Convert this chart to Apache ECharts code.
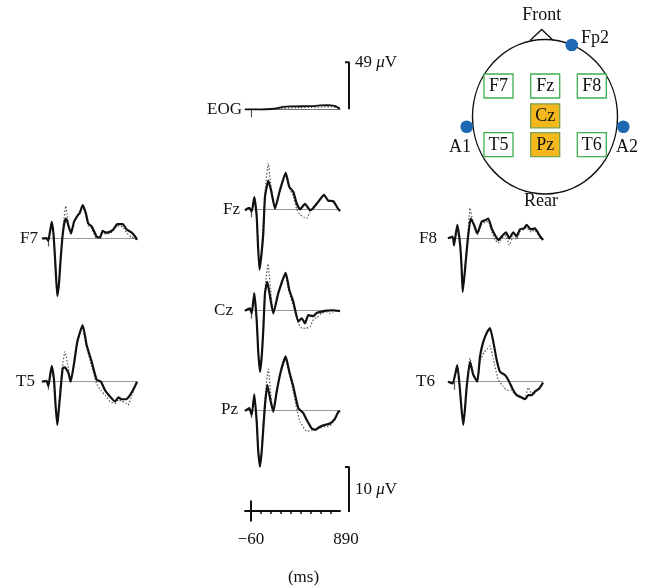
<!DOCTYPE html>
<html>
<head>
<meta charset="utf-8">
<script src="https://cdn.jsdelivr.net/npm/echarts@6/dist/echarts.min.js"></script>
<style>html,body{margin:0;padding:0;background:#fff}#c{width:646px;height:587px}</style>
</head>
<body>
<div id="c"></div>
<script>
// ---- data: [time (ms), amplitude (µV)] ----
const timeRange = [-60, 890];
const timeTickLabels = [-60, 890];
const timeMinorTicks = [100, 200, 300, 400, 500, 600, 700, 800];
const eogScale = 49;   // µV
const erpScale = 10;   // µV

const eogSolid = [[-60,0],[0,0],[100,0],[200,0.3],[280,1.5],[320,2.5],[400,3],[500,3.2],[600,3.3],[650,3.6],[700,4],[760,4.2],[800,4],[850,3],[890,0.5]];
const eogDotted = [[-60,0],[0,0],[100,-0.3],[200,0],[300,0.5],[400,1.5],[500,1.8],[600,2],[700,2.3],[800,2.5],[850,2],[890,0.5]];

const f7Solid = [[-60,0],[-15,0.1],[3,-0.5],[20,1.5],[37,3.7],[55,1.0],[72,-5],[93,-12.8],[110,-10],[125,-5],[143,0],[160,3.0],[177,4.4],[190,4.0],[205,2.8],[230,1.1],[260,3.7],[293,5.0],[320,5.8],[347,7.4],[380,5.5],[403,3.3],[437,2.7],[487,0.4],[520,0.2],[547,1.7],[580,1.3],[620,1.5],[653,2.0],[693,3.2],[747,3.2],[787,2.0],[837,1.3],[870,0.5],[890,-0.3]];
const f7Dotted = [[-60,0],[-15,0.1],[3,-0.5],[20,1.5],[37,3.5],[55,1.0],[72,-5],[93,-12.5],[110,-10],[125,-5],[143,0.5],[160,4.5],[177,7.2],[190,5.5],[205,3.2],[230,1.3],[260,3.5],[293,5.0],[320,6.2],[347,7.2],[380,5.0],[403,2.8],[437,2.2],[487,0.0],[520,0.4],[547,1.3],[580,1.0],[620,1.2],[653,1.8],[693,2.8],[747,2.6],[787,1.2],[837,0.3],[870,0.0],[890,-0.3]];

const fzSolid = [[-60,-0.2],[-17,0.3],[7,-0.5],[33,2.7],[57,-1.6],[70,-8],[85,-13.4],[105,-10],[123,-5.3],[140,2.8],[173,6.4],[200,4.3],[240,0.2],[290,4.3],[347,8.1],[383,5.0],[423,3.9],[457,1.3],[490,0],[540,1.2],[590,-0.2],[623,0.3],[673,1.7],[730,3.2],[773,1.9],[823,1.8],[863,0.4],[890,-0.4]];
const fzDotted = [[-60,-0.2],[-17,0.3],[7,-0.5],[33,2.5],[57,-1.6],[70,-8],[85,-12.8],[105,-9],[123,-3],[145,5],[173,10.2],[195,6],[240,0.0],[290,4.0],[340,7.8],[383,4.6],[423,3.0],[457,0.0],[490,-1.2],[530,-1.8],[557,-2.0],[590,-0.5],[623,0.2],[673,1.5],[730,3.0],[773,2.0],[823,1.5],[863,0.3],[890,-0.4]];

const f8Solid = [[-60,0],[-13,0.4],[0,-1.5],[33,3.0],[60,-1.1],[75,-6],[87,-11.9],[110,-7.0],[137,-0.4],[167,4.4],[200,3.0],[233,1.1],[277,3.7],[310,4.0],[343,4.4],[377,2.2],[410,0.7],[443,-0.4],[477,0.4],[520,1.3],[553,0],[593,1.3],[627,0.4],[660,2.0],[700,2.2],[727,3.0],[767,2.0],[810,2.2],[853,0.7],[890,-0.4]];
const f8Dotted = [[-60,0],[-13,0.4],[0,-1.5],[33,2.8],[60,-1.1],[75,-6],[87,-11.5],[110,-6.5],[137,0.5],[160,6.7],[190,3.5],[233,0.8],[277,3.0],[310,3.5],[343,3.8],[377,1.5],[410,-0.3],[443,-1.1],[477,0.0],[520,0.6],[553,-1.5],[593,0.4],[627,-0.2],[660,1.5],[700,2.0],[727,2.4],[767,1.4],[810,1.8],[853,0.3],[890,-0.4]];

const czSolid = [[-60,0],[-10,0.5],[7,-0.6],[33,3.9],[57,-2.1],[72,-9],[90,-13.6],[108,-10],[123,-4.3],[140,3.9],[163,6.4],[190,3.2],[223,-0.6],[273,3.9],[347,8.4],[383,4.6],[423,2.0],[473,-2.4],[507,-1.7],[540,-2.8],[573,-1.0],[623,-1.2],[657,-0.5],[707,-0.2],[757,0],[823,0.1],[890,-0.1]];
const czDotted = [[-60,0],[-10,0.5],[7,-0.6],[33,3.6],[57,-2.1],[72,-9],[90,-13],[108,-9],[125,-2],[145,6],[170,10.4],[195,5],[223,-0.3],[273,4.0],[340,8.0],[383,4.0],[423,1.0],[473,-2.8],[510,-3.9],[550,-3.9],[590,-3.6],[623,-2.0],[657,-1.5],[707,-0.6],[757,-0.3],[790,-0.6],[823,-0.2],[890,-0.1]];

const t5Solid = [[-60,0],[-13,0.2],[3,-1.0],[37,3.5],[60,0.4],[75,-5],[93,-9.6],[105,-7],[120,-3.3],[147,3.0],[170,3.2],[203,2.0],[227,0],[260,4.0],[293,8.9],[347,12.6],[387,8.1],[437,4.4],[487,0.4],[530,0],[570,-1.9],[620,-3.3],[670,-4.4],[703,-3.5],[737,-3.9],[780,-3.9],[820,-3.0],[870,-1.0],[890,0]];
const t5Dotted = [[-60,0],[-13,0.2],[3,-1.0],[37,3.3],[60,0.4],[75,-5],[93,-9.3],[105,-6.5],[120,-2],[145,3.5],[170,6.7],[200,3.5],[227,0.3],[260,3.8],[293,8.5],[340,12.2],[387,7.5],[437,3.5],[487,-0.5],[530,-2.0],[570,-3.0],[620,-4.4],[670,-4.8],[703,-4.0],[737,-4.3],[780,-4.8],[800,-5.2],[840,-3.0],[870,-1.0],[890,0]];

const pzSolid = [[-60,-0.2],[-17,0.4],[7,-1.1],[33,3.5],[57,-2.6],[72,-9],[90,-12.6],[108,-9],[123,-4.1],[140,1.1],[163,5.6],[197,1.9],[223,-0.4],[257,4.1],[297,8.5],[347,11.9],[383,8.5],[423,5.2],[473,0.4],[523,-0.7],[557,-2.2],[607,-4.1],[640,-4.4],[690,-3.7],[740,-3.3],[790,-3.0],[840,-1.9],[873,-0.4],[890,-0.2]];
const pzDotted = [[-60,-0.2],[-17,0.4],[7,-1.1],[33,3.3],[57,-2.6],[72,-9],[90,-12.2],[108,-8],[125,-2],[145,4],[173,9.1],[200,3],[223,-0.2],[257,4.0],[297,8.2],[340,11.5],[383,8.0],[423,4.0],[460,0],[490,-2.6],[557,-4.7],[607,-4.6],[640,-4.4],[690,-4.0],[740,-3.7],[790,-3.5],[840,-2.2],[873,-0.6],[890,-0.2]];

const t6Solid = [[-60,0],[-13,-0.4],[33,3.7],[60,-1.9],[75,-6],[93,-9.6],[110,-6],[127,-1.1],[160,4.4],[193,1.5],[233,0],[260,5.6],[293,8.9],[333,11.1],[360,11.9],[393,8.9],[427,4.8],[460,2.2],[510,1.5],[543,0.4],[593,-1.9],[627,-3.0],[677,-3.5],[710,-3.9],[743,-3.0],[777,-3.0],[810,-2.2],[853,-1.5],[890,-0.2]];
const t6Dotted = [[-60,0],[-13,-0.4],[33,3.5],[60,-1.9],[75,-6],[93,-9.3],[110,-5.5],[127,-0.8],[160,5.2],[193,1.8],[233,0.2],[260,4.5],[300,6.5],[333,7.3],[360,7.9],[393,5.0],[443,0.4],[490,-1.0],[527,-1.9],[570,-1.9],[620,-3.0],[660,-3.5],[710,-3.7],[743,-1.3],[777,-2.6],[810,-2.2],[853,-1.5],[890,-0.2]];

// ---- layout (pixels) ----
const serif = '"Liberation Serif", "DejaVu Serif", serif';
const PX = 4.5;          // px per µV, ERP panels
const EOGPX = 0.96;      // px per µV, EOG panel
const W = 95;            // px for the -60..890 ms window
const panels = [
  {name:'EOG', solid:eogSolid, dotted:eogDotted, left:245, base:109.3, px:EOGPX, range:50, gap:3, pad:[0,0,0,0]},
  {name:'F7', solid:f7Solid, dotted:f7Dotted, left:42, base:238.5, px:PX, range:15, gap:4, pad:[0,0,0,0]},
  {name:'Fz', solid:fzSolid, dotted:fzDotted, left:245, base:209.3, px:PX, range:15, gap:5, pad:[0,0,0,0]},
  {name:'F8', solid:f8Solid, dotted:f8Dotted, left:448, base:238.3, px:PX, range:15, gap:11, pad:[0,0,14,0]},
  {name:'Cz', solid:czSolid, dotted:czDotted, left:245, base:310.7, px:PX, range:15, gap:12, pad:[0,0,0,0]},
  {name:'T5', solid:t5Solid, dotted:t5Dotted, left:42, base:381.7, px:PX, range:15, gap:7, pad:[0,0,0,0]},
  {name:'Pz', solid:pzSolid, dotted:pzDotted, left:245, base:410, px:PX, range:15, gap:7, pad:[0,0,0,0]},
  {name:'T6', solid:t6Solid, dotted:t6Dotted, left:448, base:381.7, px:PX, range:15, gap:13, pad:[0,0,4,0]}
];

const grids = [], xAxes = [], yAxes = [], series = [];
const noAxis = {axisLine:{show:false}, axisTick:{show:false}, axisLabel:{show:false}, splitLine:{show:false}};
panels.forEach((p, i) => {
  grids.push({left:p.left, top:p.base - p.range*p.px, width:W, height:2*p.range*p.px});
  xAxes.push({type:'value', gridIndex:i, min:timeRange[0], max:timeRange[1],
    axisLine:{show:true, onZero:true, lineStyle:{color: i===0 ? '#777' : '#9a9a9a', width:1}},
    axisTick:{show:true, customValues:[0], length:8, lineStyle:{color:'#555', width:1.2}},
    axisLabel:{show:false}, splitLine:{show:false}});
  yAxes.push(Object.assign({type:'value', gridIndex:i, min:-p.range, max:p.range,
    name:p.name, nameLocation:'middle', nameRotate:0, nameGap:p.gap,
    nameTextStyle:{fontFamily:serif, fontSize:17, color:'#111', padding:p.pad}}, noAxis));
  series.push({type:'line', xAxisIndex:i, yAxisIndex:i, data:p.dotted, symbol:'none', smooth:0.15, z:2,
    lineStyle:{color:'#555', width:1.2, type:[1.5,1.8]}, animation:false, silent:true});
  series.push({type:'line', xAxisIndex:i, yAxisIndex:i, data:p.solid, symbol:'none', smooth:0.15, z:3,
    lineStyle:{color:'#111', width: i===0 ? 1.8 : 2.2}, animation:false, silent:true});
});

// bottom time axis
const bi = grids.length;
grids.push({left:245, top:512 - erpScale*PX, width:W, height:erpScale*PX});
xAxes.push({type:'value', gridIndex:bi, min:timeRange[0], max:timeRange[1],
  axisLine:{show:true, onZero:false, lineStyle:{color:'#111', width:2}},
  axisTick:{show:true, customValues:timeMinorTicks, length:3, lineStyle:{color:'#111', width:1.5}},
  axisLabel:{show:true, customValues:timeTickLabels, margin:20, fontFamily:serif, fontSize:17, color:'#111',
    padding:[0,0,0,12], formatter:v => v < 0 ? '\u2212' + Math.abs(v) : String(v)},
  splitLine:{show:false},
  name:'(ms)', nameLocation:'middle', nameGap:58,
  nameTextStyle:{fontFamily:serif, fontSize:17, color:'#111', padding:[0,0,0,22]}});
yAxes.push(Object.assign({type:'value', gridIndex:bi, min:0, max:erpScale}, noAxis));
series.push({type:'line', xAxisIndex:bi, yAxisIndex:bi, clip:false, symbol:'none', animation:false, silent:true,
  lineStyle:{color:'#111', width:2}, data:[[0,-2.4],[0,2.4]]});

// amplitude scale bars (each in its own small grid, x: 0 = cap start, 1 = bar)
// label is the right-hand y-axis name, placed at the axis middle
const scaleBars = [
  {value:eogScale, px:EOGPX, base:109.3, labelAt:1},
  {value:erpScale, px:PX, base:512, labelAt:0.5}
];
scaleBars.forEach(s => {
  const gi = grids.length;
  const axMax = 2 * s.value * s.labelAt;
  grids.push({left:345, top:s.base - axMax*s.px, width:4, height:axMax*s.px});
  xAxes.push(Object.assign({type:'value', gridIndex:gi, min:0, max:1}, noAxis));
  yAxes.push(Object.assign({type:'value', gridIndex:gi, min:0, max:axMax, position:'right',
    name:'{n|' + s.value + ' }{u|μ}{n|V}', nameLocation:'middle', nameRotate:0, nameGap:6,
    nameTextStyle:{align:'left', rich:{
      n:{fontFamily:serif, fontSize:17, color:'#111'},
      u:{fontFamily:serif, fontSize:17, fontStyle:'italic', color:'#111'}}}}, noAxis));
  series.push({type:'line', xAxisIndex:gi, yAxisIndex:gi, clip:false, symbol:'none', animation:false, silent:true,
    lineStyle:{color:'#111', width:2}, data:[[0,s.value],[1,s.value],[1,0]]});
});

// head diagram (decoration)
const boxes = [
  ['F7',484,74,false],['Fz',530.7,74,false],['F8',577.3,74,false],
  ['Cz',530.7,103.8,true],
  ['T5',484,132.7,false],['Pz',530.7,132.7,true],['T6',577.3,132.7,false]
];
const txt = (t, x, y, align) => ({type:'text', x, y, style:{text:t, fontFamily:serif, fontSize:18, fill:'#111',
  textAlign:align || 'center', textVerticalAlign:'middle'}, z:10});
const graphic = [
  {type:'circle', x:545, y:116.7, scaleY:1.066, shape:{cx:0, cy:0, r:72.5}, style:{fill:'none', stroke:'#111', lineWidth:1.4, strokeNoScale:true}},
  {type:'polyline', shape:{points:[[530,40.5],[541.7,29.5],[553.3,40.5]]}, style:{fill:'none', stroke:'#111', lineWidth:1.3}},
  txt('Front', 541.7, 15), txt('Rear', 541, 201.5),
  {type:'circle', shape:{cx:571.7, cy:45, r:6.3}, style:{fill:'#1f69b3'}, z:5},
  {type:'circle', shape:{cx:466.7, cy:126.7, r:6.3}, style:{fill:'#1f69b3'}, z:5},
  {type:'circle', shape:{cx:623.3, cy:126.7, r:6.3}, style:{fill:'#1f69b3'}, z:5},
  txt('Fp2', 581, 38, 'left'), txt('A1', 460, 147), txt('A2', 627, 147)
];
boxes.forEach(([t, x, y, fill]) => {
  graphic.push({type:'rect', shape:{x, y, width:29, height:24},
    style:{fill: fill ? '#f5b81c' : '#fff', stroke: fill ? '#74a44e' : '#3fae4f', lineWidth:1.3}, z:6});
  graphic.push(txt(t, x + 14.5, y + 12.5));
});

const chart = echarts.init(document.getElementById('c'), null, {renderer:'canvas'});
chart.setOption({animation:false, backgroundColor:'#fff', grid:grids, xAxis:xAxes, yAxis:yAxes, series, graphic});
</script>
</body>
</html>
